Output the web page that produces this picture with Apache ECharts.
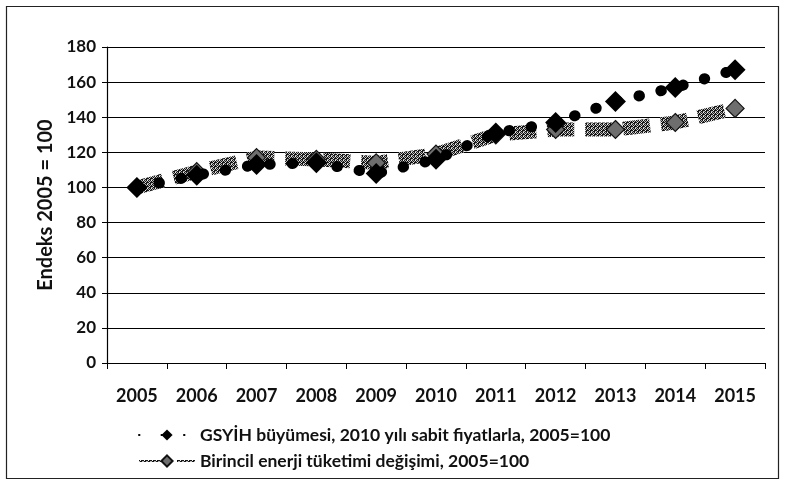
<!DOCTYPE html>
<html>
<head>
<meta charset="utf-8">
<script src="https://cdn.jsdelivr.net/npm/echarts@6/dist/echarts.min.js"></script>
<style>
html,body{margin:0;padding:0;background:#fff;}
#c{width:804px;height:481px;}
</style>
</head>
<body>
<div id="c"></div>
<script>
var years = ['2005','2006','2007','2008','2009','2010','2011','2012','2013','2014','2015'];
var gdpValues = [100,107,113,114,108,116,131,137,149,157,167];
var energyValues = [100,109,117,116,114,119,130,133,133,137,145];
var yTicks = {min:0, max:180, interval:20};
var gdpName = 'GSYİH büyümesi, 2010 yılı sabit fiyatlarla, 2005=100';
var energyName = 'Birincil enerji tüketimi değişimi, 2005=100';
var yName = 'Endeks 2005 = 100';

function speckle(){
  var c = document.createElement('canvas');
  c.width = 4; c.height = 4;
  var g = c.getContext('2d');
  g.fillStyle = '#b0b0b0'; g.fillRect(0,0,4,4);
  g.fillStyle = '#151515';
  var pts = [[0,0],[2,0],[1,1],[3,1],[0,2],[3,2],[2,3],[1,3],[2,2]];
  pts.forEach(function(p){ g.fillRect(p[0],p[1],1,1); });
  g.fillStyle = '#f0f0f0';
  g.fillRect(3,0,1,1); g.fillRect(1,2,1,1);
  return c;
}
var pat = {image: speckle(), repeat: 'repeat'};

var chart = echarts.init(document.getElementById('c'), null, {renderer:'canvas'});
var font = 'Lato, "Open Sans", sans-serif';
chart.setOption({
  animation:false,
  backgroundColor:'#fff',
  graphic:[{type:'rect', left:4, top:4, shape:{width:772, height:472}, style:{fill:'none', stroke:'#222', lineWidth:1.2}, silent:true}],
  grid:{left:107, right:39, top:47, bottom:118},
  xAxis:{type:'category', data:years, boundaryGap:true,
    axisLine:{lineStyle:{color:'#000', width:1.2}},
    axisTick:{show:true, length:6, lineStyle:{color:'#000'}},
    axisLabel:{color:'#111', fontFamily:font, fontWeight:'bold', fontSize:18, margin:24}
  },
  yAxis:{type:'value', min:yTicks.min, max:yTicks.max, interval:yTicks.interval,
    name:yName, nameLocation:'middle', nameGap:44, nameRotate:90,
    nameTextStyle:{color:'#111', fontFamily:font, fontWeight:'bold', fontSize:20},
    axisLine:{show:true, lineStyle:{color:'#000', width:1.2}},
    axisTick:{show:true, length:5, lineStyle:{color:'#000'}},
    axisLabel:{color:'#111', fontFamily:font, fontWeight:'bold', fontSize:17, margin:11},
    splitLine:{show:true, lineStyle:{color:'#000', width:1.2}}
  },
  legend:{orient:'vertical', left:133, top:421, itemGap:8, itemWidth:56, itemHeight:14,
    textStyle:{color:'#111', fontFamily:font, fontWeight:'bold', fontSize:17.5},
    data:[gdpName, energyName]
  },
  series:[
    {name:energyName, type:'line', data:energyValues, z:2,
      symbol:'diamond', symbolSize:18,
      lineStyle:{color:pat, width:14, type:[27,11]},
      itemStyle:{color:'#6e6e6e', borderColor:'#111', borderWidth:1.2}
    },
    {name:gdpName, type:'line', data:gdpValues, z:3,
      symbol:'diamond', symbolSize:21,
      lineStyle:{color:'#000', width:11, type:[0.5,22], cap:'round'},
      itemStyle:{color:'#000'}
    }
  ]
});
</script>
</body>
</html>
